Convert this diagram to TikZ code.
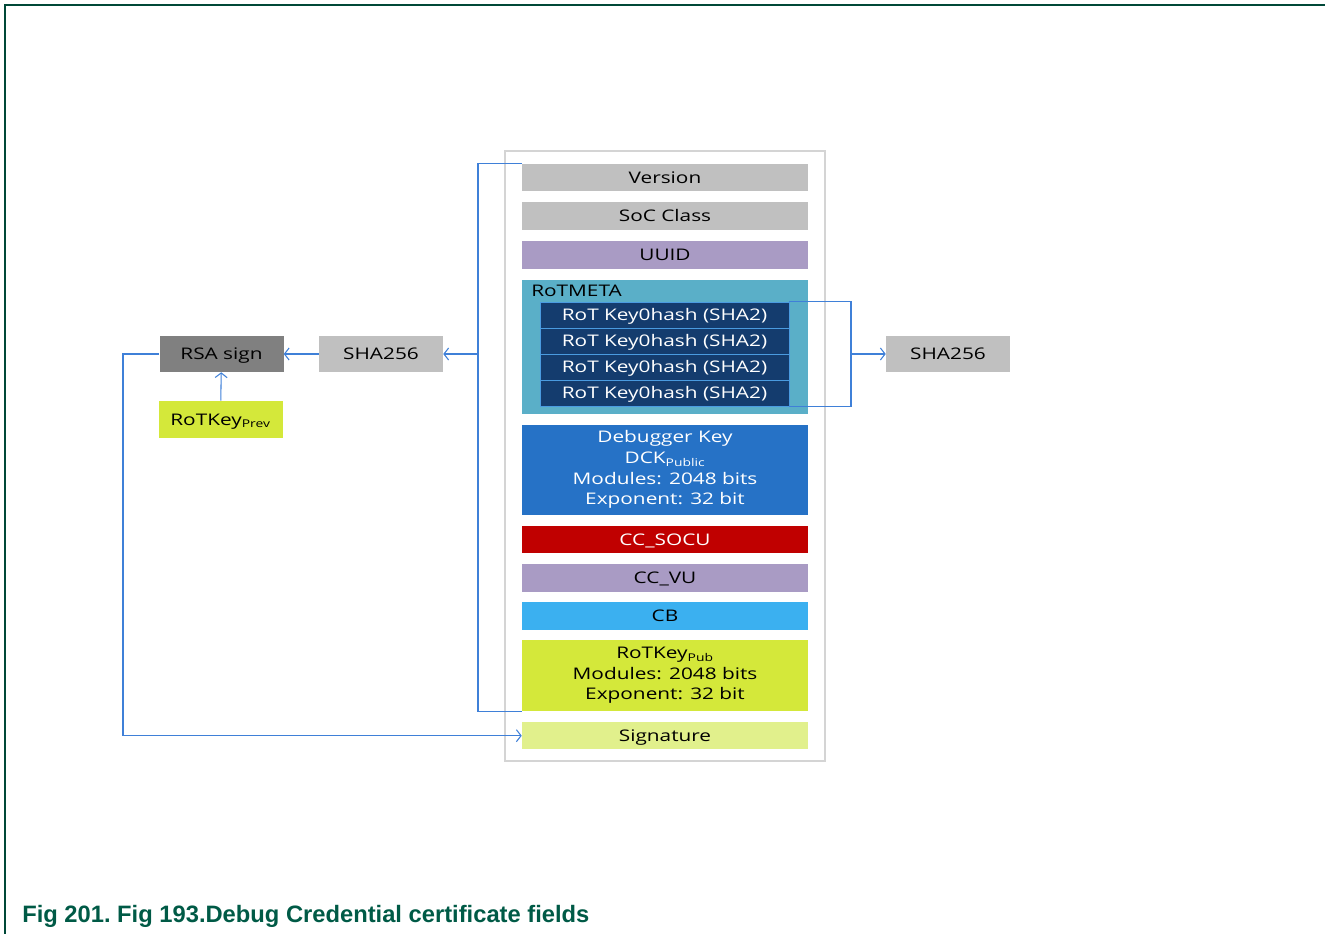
\documentclass[tikz,border=0pt]{standalone}
\usepackage{fontspec}
\setmainfont[FakeStretch=1.3]{Open Sans}
\newfontfamily\capfont{Liberation Sans}
\usetikzlibrary{arrows.meta, positioning, calc}

\definecolor{fgrey}{HTML}{C0C0C0}
\definecolor{rsagrey}{HTML}{808080}
\definecolor{fpurple}{HTML}{A99BC4}
\definecolor{metateal}{HTML}{5AAFC8}
\definecolor{keyblue}{HTML}{143C6E}
\definecolor{keyedge}{HTML}{4A9BE0}
\definecolor{dckblue}{HTML}{2672C6}
\definecolor{socured}{HTML}{C00000}
\definecolor{cbblue}{HTML}{3BB0F0}
\definecolor{lime}{HTML}{D4E83A}
\definecolor{palelime}{HTML}{E1F08C}
\definecolor{linkblue}{HTML}{3F80D8}
\definecolor{capgreen}{HTML}{005A46}
\definecolor{boxgrey}{HTML}{D4D4D4}

\tikzset{
  fieldbox/.style={
    rectangle, inner sep=0pt,
    minimum width=214.5pt, minimum height=20.5pt,
    text centered, align=center,
    font=\fontsize{12}{15.5}\selectfont
  },
  oneline/.style={text height=11pt, text depth=2.4pt},
  greyfield/.style={fieldbox, oneline, fill=fgrey},
  purplefield/.style={fieldbox, oneline, fill=fpurple},
  keyrow/.style={fieldbox, oneline, fill=keyblue, draw=keyedge, line width=0.6pt,
    minimum width=186.75pt, minimum height=19.5pt, text=white},
  sidebox/.style={fieldbox, oneline, minimum width=93pt, minimum height=27pt},
  link/.style={draw=linkblue, line width=0.8pt},
  arrow/.style={link, -{Straight Barb[length=3.5pt, width=9pt]}}
}

\begin{document}
\begin{tikzpicture}[x=0.75pt, y=-0.75pt, node distance=7.9pt]
  \useasboundingbox (0,0) rectangle (1325,934);

  % Page frame
  \draw[capgreen!80!black, line width=0.8pt] (1325,5) -- (5,5) -- (5,934);

  % Certificate container
  \node[draw=boxgrey, line width=0.8pt, minimum width=240pt, minimum height=457.5pt,
    inner sep=0pt] (cert) at (665,456) {};

  % Certificate fields
  \node[greyfield] (ver) at (665,177.5) {Version};
  \node[greyfield, below=of ver] (soc) {SoC Class};
  \node[purplefield, below=of soc, minimum height=21pt] (uuid) {UUID};
  \node[fieldbox, fill=metateal, below=of uuid, minimum height=100.5pt] (meta) {};
  \node[fieldbox, fill=dckblue, text=white, below=of meta, minimum height=67.5pt] (dck)
    {Debugger Key\\DCK\textsubscript{Public}\\Modules: 2048 bits\\Exponent: 32 bit};
  \node[fieldbox, oneline, fill=socured, text=white, below=of dck] (socu) {CC\_SOCU};
  \node[purplefield, below=7.5pt of socu, minimum height=21pt] (vu) {CC\_VU};
  \node[fieldbox, oneline, fill=cbblue, below=7.2pt of vu, minimum height=21pt] (cb) {CB};
  \node[fieldbox, fill=lime, below=7.2pt of cb, minimum height=53.25pt] (pub)
    {RoTKey\textsubscript{Pub}\\Modules: 2048 bits\\Exponent: 32 bit};
  \node[fieldbox, oneline, fill=palelime, below=7.9pt of pub] (sig) {Signature};

  % RoTMETA contents
  \node[anchor=west, inner sep=0pt, font=\fontsize{12}{14}\selectfont] (metatitle)
    at (531,291) {RoTMETA};
  \foreach \i in {1,...,4}
    \node[keyrow] (key\i) at (664.5,289+26*\i) {RoT Key0hash (SHA2)};

  % Signing side
  \node[sidebox, fill=fgrey] (shaleft) at (381,354) {SHA256};
  \node[sidebox, fill=rsagrey] (rsa) at (221.5,354) {RSA sign};
  \node[sidebox, fill=lime, minimum height=27.75pt] (prev) at (220.5,419.5)
    {RoTKey\textsubscript{Prev}};
  \node[sidebox, fill=fgrey] (sharight) at (948,354) {SHA256};

  % Connectors
  \coordinate (lb) at (478,354);
  \coordinate (rb) at (123,354);
  \coordinate (rc) at (851,354);
  \draw[link] (ver.north west) -- (ver.north west -| lb) -- (pub.south west -| lb)
    -- (pub.south west);
  \draw[arrow] (lb) -- (shaleft);
  \draw[arrow] (shaleft) -- (rsa);
  \draw[arrow] (prev) -- (rsa);
  \draw[arrow] (rsa.west) -- (rb) |- (sig.west);
  \draw[link] (key1.north east) -- (key1.north east -| rc) -- (key4.south east -| rc)
    -- (key4.south east);
  \draw[arrow] (rc) -- (sharight);

  % Caption
  \node[anchor=base west, inner sep=0pt, text=capgreen,
    font=\capfont\bfseries\fontsize{17.8}{20}\selectfont] (caption) at (22,922)
    {\frenchspacing Fig 201. Fig 193.Debug Credential certificate fields};
\end{tikzpicture}
\end{document}
